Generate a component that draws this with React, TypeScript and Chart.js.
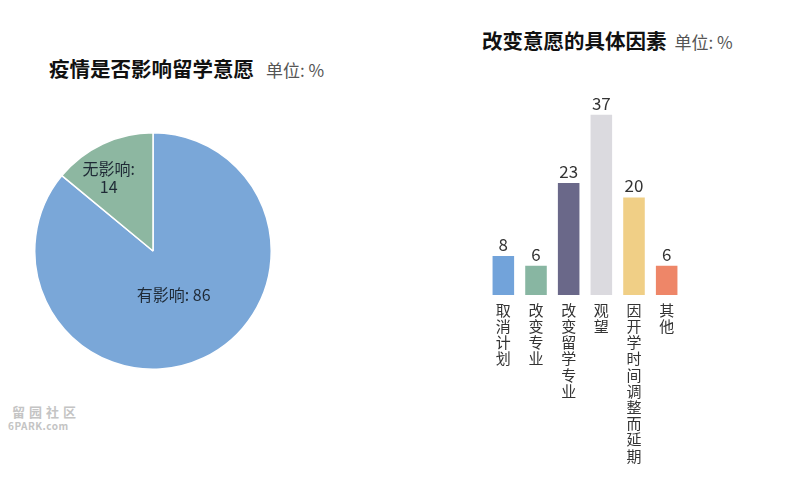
import React, { useEffect, useRef } from "react";
import { Chart, registerables } from "chart.js";

Chart.register(...registerables);

const pieLabels = ["有影响", "无影响"];
const pieValues = [86, 14];
const pieColors = ["#7AA7D8", "#8DB7A1"];

const barCategories = ["取消计划", "改变专业", "改变留学专业", "观望", "因开学时间调整而延期", "其他"];
const barValues = [8, 6, 23, 37, 20, 6];
const barColors = ["#72A3DA", "#88B6A2", "#6A6889", "#DBDADF", "#F0CF86", "#EE8668"];

const FONT = "'Noto Sans CJK SC', 'Noto Sans', sans-serif";

function PieChart() {
  const ref = useRef<HTMLCanvasElement>(null);
  useEffect(() => {
    const labelPlugin = {
      id: "pieLabels",
      afterDatasetsDraw(chart: any) {
        const ctx = chart.ctx;
        const meta = chart.getDatasetMeta(0);
        const factors = [0.41, 0.73];
        const angleShift = [0, -0.1];
        ctx.save();
        ctx.fillStyle = "#1f2a36";
        ctx.font = `16px ${FONT}`;
        ctx.textAlign = "center";
        ctx.textBaseline = "middle";
        meta.data.forEach((arc: any, i: number) => {
          const { startAngle, endAngle, outerRadius, x, y } = arc.getProps(["startAngle", "endAngle", "outerRadius", "x", "y"], true);
          const mid = (startAngle + endAngle) / 2 + angleShift[i];
          const r = outerRadius * factors[i];
          const px = x + Math.cos(mid) * r;
          const py = y + Math.sin(mid) * r;
          if (i === 0) {
            ctx.fillText(`${pieLabels[i]}: ${pieValues[i]}`, px, py);
          } else {
            ctx.fillText(`${pieLabels[i]}:`, px, py - 8);
            ctx.fillText(`${pieValues[i]}`, px, py + 10);
          }
        });
        ctx.restore();
      },
    };
    const chart = new Chart(ref.current!, {
      type: "pie",
      data: {
        labels: pieLabels,
        datasets: [
          {
            data: pieValues,
            backgroundColor: pieColors,
            borderColor: "#ffffff",
            borderWidth: 1.5,
          },
        ],
      },
      options: {
        animation: false,
        responsive: false,
        maintainAspectRatio: false,
        layout: { padding: 1 },
        plugins: { legend: { display: false }, tooltip: { enabled: false } },
      },
      plugins: [labelPlugin],
    });
    return () => chart.destroy();
  }, []);
  return (
    <canvas
      ref={ref}
      width={240}
      height={240}
      style={{ position: "absolute", left: 33, top: 131, width: 240, height: 240 }}
    />
  );
}

function BarChart() {
  const ref = useRef<HTMLCanvasElement>(null);
  useEffect(() => {
    const valuePlugin = {
      id: "barValues",
      afterDatasetsDraw(chart: any) {
        const ctx = chart.ctx;
        const meta = chart.getDatasetMeta(0);
        ctx.save();
        ctx.fillStyle = "#333333";
        ctx.font = `17px ${FONT}`;
        ctx.textAlign = "center";
        ctx.textBaseline = "bottom";
        meta.data.forEach((bar: any, i: number) => {
          ctx.fillText(String(barValues[i]), bar.x, bar.y - 3);
        });
        ctx.restore();
      },
    };
    const chart = new Chart(ref.current!, {
      type: "bar",
      data: {
        labels: barCategories.map((c) => c.split("")),
        datasets: [
          {
            data: barValues,
            backgroundColor: barColors,
            borderWidth: 0,
            categoryPercentage: 1,
            barPercentage: 0.66,
          },
        ],
      },
      options: {
        animation: false,
        responsive: false,
        maintainAspectRatio: false,
        layout: { padding: { top: 20, bottom: 15, left: 20, right: 20 } },
        plugins: { legend: { display: false }, tooltip: { enabled: false } },
        scales: {
          y: { display: false, min: 0, max: 40 },
          x: {
            grid: { display: false, drawTicks: false },
            border: { display: false },
            ticks: {
              color: "#333333",
              font: { family: FONT, size: 15, lineHeight: 1.08 },
              padding: 7,
              maxRotation: 0,
              minRotation: 0,
              autoSkip: false,
            },
          },
        },
      },
      plugins: [valuePlugin],
    });
    return () => chart.destroy();
  }, []);
  return (
    <canvas
      ref={ref}
      width={236}
      height={406}
      style={{ position: "absolute", left: 467, top: 80, width: 236, height: 406 }}
    />
  );
}

export default function App() {
  return (
    <div
      style={{
        position: "fixed",
        left: 0,
        top: 0,
        width: 800,
        height: 486,
        background: "#ffffff",
        overflow: "hidden",
        fontFamily: FONT,
      }}
    >
      <div style={{ position: "absolute", left: 49, top: 54, whiteSpace: "nowrap", lineHeight: "28px" }}>
        <span style={{ fontSize: 20.5, fontWeight: 700, color: "#111" }}>疫情是否影响留学意愿</span>
        <span style={{ fontSize: 17, color: "#555", marginLeft: 12 }}>单位: %</span>
      </div>
      <div style={{ position: "absolute", left: 482, top: 26, whiteSpace: "nowrap", lineHeight: "28px" }}>
        <span style={{ fontSize: 20.5, fontWeight: 700, color: "#111" }}>改变意愿的具体因素</span>
        <span style={{ fontSize: 17, color: "#555", marginLeft: 8 }}>单位: %</span>
      </div>
      <PieChart />
      <BarChart />
      <div
        style={{
          position: "absolute",
          left: 8,
          top: 405,
          lineHeight: "14px",
          color: "#c4c4c4",
          width: 72,
          whiteSpace: "nowrap",
        }}
      >
        <div style={{ letterSpacing: 4, fontWeight: 700, fontSize: 13, marginLeft: 4 }}>留园社区</div>
        <div style={{ fontSize: 10, fontWeight: 700, letterSpacing: 0.5 }}>6PARK.com</div>
      </div>
    </div>
  );
}
